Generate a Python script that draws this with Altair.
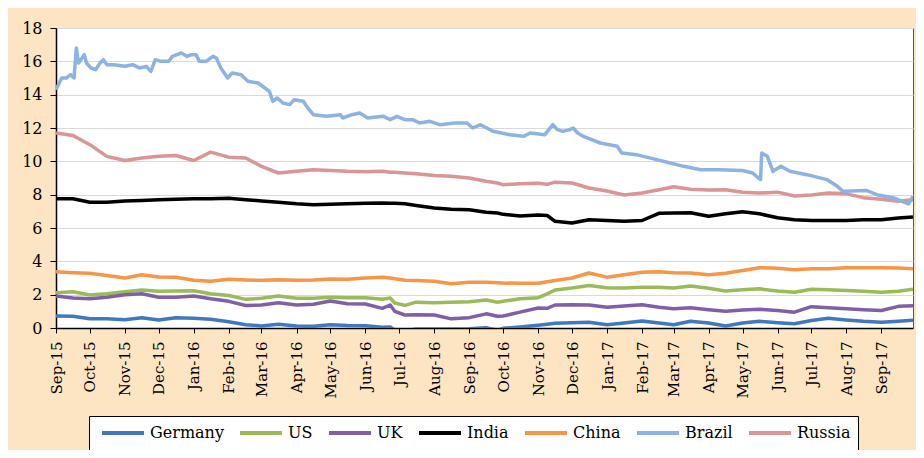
import altair as alt
import pandas as pd

countries = ["Germany", "US", "UK", "India", "China", "Brazil", "Russia"]
colors = ["#4178BE", "#9BBB59", "#7F60A8", "#000000", "#F79646", "#8DB3E2", "#D99694"]

dates = ["2015-09-01", "2015-09-16", "2015-10-01", "2015-10-16", "2015-11-01", "2015-11-16", "2015-12-01", "2015-12-16",
         "2016-01-01", "2016-01-16", "2016-02-01", "2016-02-16", "2016-03-01", "2016-03-16", "2016-04-01", "2016-04-16",
         "2016-05-01", "2016-05-16", "2016-06-01", "2016-06-16", "2016-06-23", "2016-06-27", "2016-07-06", "2016-07-16",
         "2016-08-01", "2016-08-16", "2016-09-01", "2016-09-16", "2016-09-26", "2016-10-01", "2016-10-16", "2016-11-01",
         "2016-11-09", "2016-11-16", "2016-12-01", "2016-12-16",
         "2017-01-01", "2017-01-16", "2017-02-01", "2017-02-16", "2017-03-01", "2017-03-16", "2017-04-01", "2017-04-16",
         "2017-05-01", "2017-05-16", "2017-06-01", "2017-06-16", "2017-07-01", "2017-07-16", "2017-08-01", "2017-08-16",
         "2017-09-01", "2017-09-16", "2017-09-29"]

germany = [0.72, 0.70, 0.55, 0.56, 0.50, 0.62, 0.48, 0.62,
           0.58, 0.52, 0.38, 0.20, 0.12, 0.22, 0.12, 0.10,
           0.20, 0.15, 0.14, 0.04, 0.06, -0.12, -0.17, -0.06,
           -0.06, -0.06, -0.04, 0.02, -0.14, -0.02, 0.06, 0.16,
           0.22, 0.28, 0.32, 0.34,
           0.20, 0.30, 0.42, 0.30, 0.20, 0.40, 0.30, 0.12,
           0.30, 0.40, 0.32, 0.25, 0.45, 0.58, 0.48, 0.40,
           0.35, 0.40, 0.46]
us = [2.12, 2.18, 1.98, 2.05, 2.18, 2.28, 2.20, 2.22,
      2.24, 2.05, 1.95, 1.72, 1.78, 1.92, 1.78, 1.78,
      1.85, 1.82, 1.82, 1.72, 1.80, 1.50, 1.36, 1.55,
      1.52, 1.55, 1.58, 1.68, 1.55, 1.60, 1.75, 1.82,
      2.05, 2.28, 2.40, 2.55,
      2.42, 2.40, 2.45, 2.45, 2.40, 2.52, 2.38, 2.22,
      2.30, 2.35, 2.22, 2.15, 2.32, 2.30, 2.25, 2.20,
      2.15, 2.20, 2.32]
uk = [1.92, 1.80, 1.75, 1.85, 2.00, 2.05, 1.85, 1.85,
      1.92, 1.75, 1.60, 1.35, 1.38, 1.52, 1.38, 1.42,
      1.62, 1.45, 1.44, 1.18, 1.38, 1.00, 0.78, 0.80,
      0.78, 0.55, 0.62, 0.85, 0.70, 0.72, 0.95, 1.20,
      1.18, 1.38, 1.40, 1.38,
      1.25, 1.32, 1.40, 1.25, 1.15, 1.22, 1.10, 1.00,
      1.08, 1.12, 1.05, 0.95, 1.28, 1.22, 1.15, 1.10,
      1.05, 1.30, 1.34]
india = [7.75, 7.75, 7.55, 7.55, 7.62, 7.65, 7.70, 7.72,
         7.75, 7.76, 7.78, 7.70, 7.62, 7.55, 7.45, 7.40,
         7.42, 7.45, 7.48, 7.50, 7.48, 7.48, 7.45, 7.35,
         7.20, 7.12, 7.10, 6.95, 6.90, 6.82, 6.72, 6.78,
         6.75, 6.40, 6.30, 6.50,
         6.45, 6.40, 6.45, 6.88, 6.90, 6.92, 6.70, 6.85,
         6.98, 6.85, 6.62, 6.50, 6.45, 6.45, 6.45, 6.50,
         6.50, 6.60, 6.66]
china = [3.38, 3.32, 3.28, 3.15, 3.00, 3.20, 3.06, 3.05,
         2.86, 2.80, 2.92, 2.88, 2.86, 2.90, 2.86, 2.88,
         2.94, 2.92, 3.00, 3.04, 3.00, 2.95, 2.86, 2.85,
         2.80, 2.66, 2.75, 2.74, 2.72, 2.70, 2.68, 2.68,
         2.78, 2.85, 3.00, 3.30,
         3.05, 3.20, 3.35, 3.38, 3.32, 3.30, 3.20, 3.28,
         3.45, 3.62, 3.58, 3.50, 3.55, 3.55, 3.62, 3.62,
         3.62, 3.60, 3.55]
russia = [11.70, 11.55, 11.00, 10.30, 10.05, 10.20, 10.30, 10.35,
          10.05, 10.55, 10.25, 10.20, 9.70, 9.30, 9.40, 9.50,
          9.45, 9.40, 9.38, 9.40, 9.35, 9.35, 9.30, 9.25,
          9.15, 9.10, 9.00, 8.80, 8.70, 8.60, 8.65, 8.68,
          8.62, 8.75, 8.70, 8.40,
          8.22, 7.98, 8.10, 8.30, 8.48, 8.32, 8.28, 8.30,
          8.15, 8.10, 8.15, 7.92, 7.98, 8.10, 8.05, 7.82,
          7.72, 7.60, 7.70]

brazil_dates = ["2015-09-01", "2015-09-06", "2015-09-10", "2015-09-14", "2015-09-17", "2015-09-19", "2015-09-21",
                "2015-09-24", "2015-09-26", "2015-09-28", "2015-10-02", "2015-10-06", "2015-10-10", "2015-10-13",
                "2015-10-16", "2015-10-22", "2015-11-01", "2015-11-08", "2015-11-14", "2015-11-20", "2015-11-24",
                "2015-11-28", "2015-12-03", "2015-12-10", "2015-12-13", "2015-12-21", "2015-12-26", "2015-12-30",
                "2016-01-03", "2016-01-06", "2016-01-12", "2016-01-18", "2016-01-21", "2016-01-25", "2016-01-31",
                "2016-02-04", "2016-02-12", "2016-02-18", "2016-02-27", "2016-03-04", "2016-03-08", "2016-03-11",
                "2016-03-15", "2016-03-20", "2016-03-26", "2016-03-30", "2016-04-07", "2016-04-11", "2016-04-16",
                "2016-04-28", "2016-05-10", "2016-05-12", "2016-05-20", "2016-05-27", "2016-06-03", "2016-06-17",
                "2016-06-23", "2016-06-29", "2016-07-06", "2016-07-13", "2016-07-19", "2016-07-28", "2016-08-06",
                "2016-08-19", "2016-08-24", "2016-08-30", "2016-09-04", "2016-09-11", "2016-09-22", "2016-10-07",
                "2016-10-19", "2016-10-25", "2016-11-07", "2016-11-14", "2016-11-18", "2016-11-23", "2016-11-29",
                "2016-12-02", "2016-12-06", "2016-12-11", "2016-12-26", "2017-01-10", "2017-01-14", "2017-01-27",
                "2017-02-14", "2017-02-26", "2017-03-10", "2017-03-25", "2017-04-11", "2017-05-01", "2017-05-10",
                "2017-05-15", "2017-05-17", "2017-05-18", "2017-05-23", "2017-05-28", "2017-06-04", "2017-06-12",
                "2017-06-27", "2017-07-15", "2017-07-24", "2017-07-29", "2017-08-19", "2017-08-28", "2017-09-12",
                "2017-09-25", "2017-09-29"]
brazil = [14.3, 15.0, 15.0, 15.2, 15.0, 16.8, 15.9,
          16.2, 16.4, 15.9, 15.6, 15.5, 15.9, 16.1,
          15.8, 15.8, 15.7, 15.8, 15.6, 15.7, 15.4,
          16.1, 16.0, 16.0, 16.3, 16.5, 16.3, 16.4,
          16.4, 16.0, 16.0, 16.3, 16.2, 15.6, 15.0,
          15.3, 15.2, 14.8, 14.7, 14.4, 14.2, 13.6,
          13.8, 13.5, 13.4, 13.7, 13.6, 13.2, 12.8,
          12.7, 12.8, 12.6, 12.8, 12.9, 12.6, 12.7,
          12.5, 12.7, 12.5, 12.5, 12.3, 12.4, 12.2,
          12.3, 12.3, 12.3, 12.0, 12.2, 11.8, 11.6,
          11.5, 11.7, 11.6, 12.2, 11.9, 11.8, 11.9,
          12.0, 11.7, 11.5, 11.1, 10.9, 10.5, 10.4,
          10.1, 9.9, 9.7, 9.5, 9.5, 9.45, 9.3,
          9.0, 8.9, 10.5, 10.3, 9.4, 9.7, 9.4,
          9.2, 8.9, 8.5, 8.2, 8.25, 8.0, 7.8,
          7.45, 7.9]

frames = []
for name, vals in [("Germany", germany), ("US", us), ("UK", uk), ("India", india),
                   ("China", china), ("Russia", russia)]:
    frames.append(pd.DataFrame({"date": dates, "value": vals, "country": name}))
frames.append(pd.DataFrame({"date": brazil_dates, "value": brazil, "country": "Brazil"}))
df = pd.concat(frames, ignore_index=True)

FONT = "DejaVu Serif"

chart = alt.Chart(df).mark_line(strokeWidth=3.5, clip=True, strokeJoin="round").encode(
    x=alt.X("date:T",
            scale=alt.Scale(type="utc",
                            domain=[alt.DateTime(year=2015, month=9, date=1, utc=True),
                                    alt.DateTime(year=2017, month=9, date=29, utc=True)]),
            axis=alt.Axis(title=None, labelExpr="utcFormat(datum.value, '%b-%y')",
                          tickCount={"interval": "month", "step": 1},
                          labelAngle=-90, labelFont=FONT, labelFontSize=15, labelColor="black",
                          labelFontWeight="normal",
                          labelPadding=8, tickSize=5, tickColor="black", domainColor="black",
                          domainWidth=1.5, grid=False, labelOverlap=False, labelFlush=False)),
    y=alt.Y("value:Q",
            scale=alt.Scale(domain=[0, 18], nice=False, zero=False),
            axis=alt.Axis(title=None, values=[0, 2, 4, 6, 8, 10, 12, 14, 16, 18],
                          labelFont=FONT, labelFontSize=16, labelColor="black",
                          labelFontWeight="normal",
                          labelPadding=8, tickSize=6, tickColor="black", domainColor="black",
                          domainWidth=1.5, grid=True, gridColor="#D9D9D9", gridWidth=1)),
    color=alt.Color("country:N",
                    scale=alt.Scale(domain=countries, range=colors),
                    legend=alt.Legend(title=None, orient="none", legendX=33, legendY=388,
                                      direction="horizontal", columns=7,
                                      symbolType="stroke", symbolSize=1764, symbolStrokeWidth=4,
                                      symbolOffset=4, clipHeight=20,
                                      labelFont=FONT, labelFontSize=16, labelColor="black",
                                      labelFontWeight="normal",
                                      fillColor="white", strokeColor="black", padding=7,
                                      columnPadding=10, labelOffset=4)),
    detail="country:N",
).properties(
    width=857, height=300,
    padding={"left": 48, "top": 20, "right": 3, "bottom": 122},
    autosize=alt.AutoSizeParams(type="none"),
    background="#FDE4C3",
).configure_view(fill="white", stroke="#595959", strokeWidth=1)

chart.save("out.html", embed_options={"renderer": "svg", "actions": False})
